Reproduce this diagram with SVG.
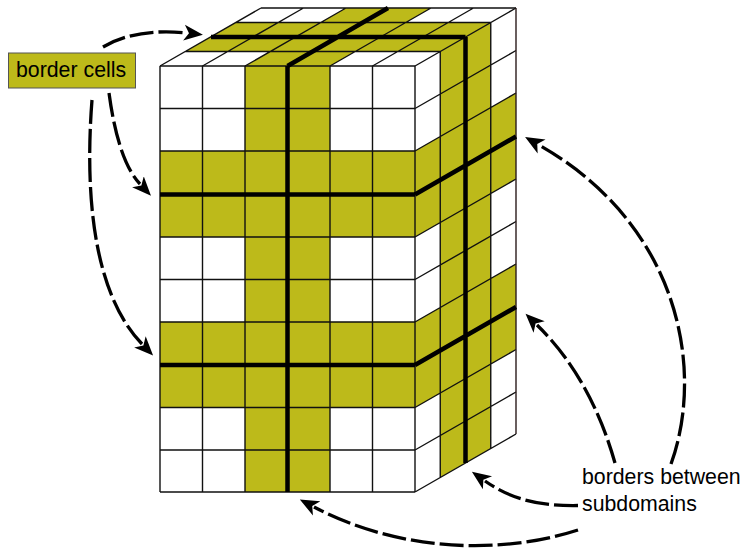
<svg xmlns="http://www.w3.org/2000/svg" width="743" height="549" viewBox="0 0 743 549">
<style>
.o{fill:#bdba1a;stroke:none}
.w{fill:#fff;stroke:none}
.g{fill:none;stroke:#111;stroke-width:1.4}
.e{fill:none;stroke:#2a1a1a;stroke-width:1.4}
.t{fill:none;stroke:#000;stroke-width:4.500}
.a{fill:none;stroke:#000;stroke-width:3.300;stroke-dasharray:24 5}
text{font-family:"Liberation Sans",Arial,sans-serif;font-size:21.300px;fill:#000}
</style>
<defs>
<marker id="h" markerUnits="userSpaceOnUse" markerWidth="24" markerHeight="20" refX="3" refY="8" orient="auto" viewBox="0 0 24 16">
<path d="M0,0 L19,8 L0,16 L5,8z" fill="#000"/>
</marker>
</defs>
<g id="block">
<rect class="w" x="160" y="66" width="255" height="426"/>
<polygon class="w" points="160,66 415,66 516,8 261,8"/>
<polygon class="w" points="415,66 516,8 516,434 415,492"/>
<rect class="o" x="245" y="66" width="85" height="426"/>
<rect class="o" x="160" y="151" width="255" height="86"/>
<rect class="o" x="160" y="322" width="255" height="85.500"/>
<polygon class="o" points="185.250,51.500 440.250,51.500 490.750,22.500 235.750,22.500"/>
<polygon class="o" points="245,66 330,66 431,8 346,8"/>
<polygon class="o" points="440.250,51.500 490.750,22.500 490.750,448.500 440.250,477.500"/>
<polygon class="o" points="415,151 516,93 516,179 415,237"/>
<polygon class="o" points="415,322 516,264 516,349.500 415,407.500"/>
<path class="g" d="M160,66V492M202.500,66V492M245,66V492M330,66V492M372.500,66V492M415,66V492
M160,66H415M160,108.500H415M160,151H415M160,237H415M160,279.500H415M160,322H415M160,407.500H415M160,450H415M160,492H415"/>
<path class="g" d="M415,108.500L516,50.500M415,151L516,93M415,237L516,179M415,279.500L516,221.500M415,322L516,264M415,407.500L516,349.500M415,450L516,392M415,66L516,8M415,492L516,434
M440.250,51.500V477.500M490.750,22.500V448.500"/>
<path class="g" d="M185.250,51.500H440.250M235.750,22.500H490.750M261,8H516
M160,66L261,8M202.500,66L303.500,8M245,66L346,8M330,66L431,8M372.500,66L473.500,8"/>
<path class="e" d="M516,8V434"/>
<path class="t" d="M287.500,66V492M160,194.500H415M160,365H415"/>
<path class="t" d="M415,194.500L516,136.500M415,365L516,307M465.500,37V463"/>
<path class="t" d="M211,37H465.500M287.500,66L388,8"/>
</g>
<g id="connectors">
<path class="a" marker-end="url(#h)" d="M103,47C128,32 160,30 187,33"/>
<path class="a" marker-end="url(#h)" d="M109,93C114,130 123,166 140,184"/>
<path class="a" marker-end="url(#h)" d="M92,100C85,190 92,292 142,344"/>
<path class="a" marker-end="url(#h)" d="M615,463C600,410 575,362 537,325"/>
<path class="a" marker-end="url(#h)" d="M671,464C705,370 680,225 539,145"/>
<path class="a" marker-end="url(#h)" d="M578,505.500C545,506 515,502 485,481"/>
<path class="a" marker-end="url(#h)" d="M578,530C500,555 400,552 314,507"/>
</g>
<g id="border-cells">
<rect x="8.500" y="53" width="127" height="35" fill="#bdba1a" stroke="#555" stroke-width="1"/>
<text x="16" y="77">border cells</text>
</g>
<g id="borders-between-subdomains">
<text x="582" y="484">borders between</text>
<text x="582" y="511">subdomains</text>
</g>
</svg>
